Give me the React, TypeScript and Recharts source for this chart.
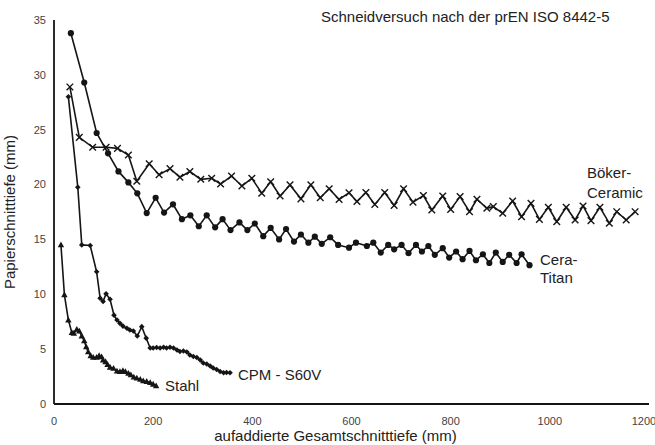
import React from 'react';
import { LineChart, Line, XAxis, YAxis, Customized } from 'recharts';

const xTicks = [0, 200, 400, 600, 800, 1000, 1200];
const yTicks = [0, 5, 10, 15, 20, 25, 30, 35];

const bokerX = [32,51,78,105,128,150,167,192,212,234,254,274,296,318,336,358,379,399,419,437,456,476,498,518,537,555,575,595,611,629,647,667,686,705,724,745,762,784,800,819,838,853,873,886,905,925,943,962,979,997,1014,1033,1051,1067,1083,1101,1120,1135,1154,1172];
const bokerY = [28.9,24.3,23.4,23.4,23.3,22.7,20.3,21.9,20.9,21.45,20.67,21.19,20.48,20.57,20.05,20.78,19.87,20.57,19.21,20.26,18.96,19.97,18.7,19.97,18.8,19.62,18.64,19.25,18.46,19.28,18.19,19.28,18.1,19.62,18.4,19.0,17.68,18.96,17.74,18.9,17.53,18.66,17.84,17.99,17.38,18.5,17.07,18.29,16.83,17.93,16.62,17.93,16.77,18.05,16.71,17.93,16.47,17.53,16.77,17.53];

const ceraX = [34,61,86,109,130,150,168,187,205,222,240,258,275,292,308,325,340,356,374,390,405,422,437,454,468,484,498,513,526,540,557,573,595,609,631,644,659,674,686,701,715,730,742,755,768,784,797,811,824,838,851,865,878,891,905,918,933,943,959];
const ceraY = [33.8,29.3,24.7,22.85,21.2,20.2,19.2,17.4,18.8,17.45,18.2,16.85,17.2,16.2,17.2,16.1,16.85,15.85,16.55,15.85,16.45,15.3,16.05,15.0,15.95,14.8,15.45,14.7,15.25,14.6,15.2,14.5,14.25,14.7,14.4,14.7,13.8,14.5,14.1,14.5,13.75,14.5,13.9,14.4,13.6,14.2,13.35,13.9,13.2,13.95,13.1,13.65,12.85,13.8,12.95,13.6,12.85,13.65,12.65];

const cpmX = [29,48,56,73,86,93,99,105,113,121,127,133,139,147,153,160,168,177,186,194,200,207,214,221,227,234,241,248,254,261,268,274,281,288,295,301,308,315,321,328,335,342,348,355];
const cpmY = [28.0,19.75,14.5,14.45,12.05,9.65,9.35,10.05,9.55,8.1,7.65,7.35,7.1,6.9,6.75,6.65,6.2,7.05,6.0,5.1,5.1,5.15,5.1,5.17,5.1,5.17,5.1,4.92,4.79,4.83,4.74,4.47,4.33,4.24,4.01,3.74,3.65,3.46,3.28,3.14,2.96,2.85,2.87,2.85];

const stahlX = [14,21,29,36,40,46,51,56,61,65,69,74,79,86,91,96,99,104,108,113,120,127,133,139,144,150,155,161,167,174,180,187,194,200,206];
const stahlY = [14.5,9.95,7.65,6.5,6.45,6.8,6.65,6.2,5.75,5.2,4.75,4.4,4.25,4.25,4.4,4.3,4.0,3.85,3.6,3.35,3.25,3.0,2.95,3.05,2.95,2.8,2.65,2.45,2.35,2.25,2.1,2.05,1.95,1.8,1.65];

const toPts = (xs: number[], ys: number[]) => xs.map((x, i) => ({ x, y: ys[i] }));
const bokerData = toPts(bokerX, bokerY);
const ceraData = toPts(ceraX, ceraY);
const cpmData = toPts(cpmX, cpmY);
const stahlData = toPts(stahlX, stahlY);

const INK = '#151515';
const FONT = 'Liberation Sans, Arial, sans-serif';

const CrossDot = (p: any) => {
  const { cx, cy, index } = p;
  if (cx == null || cy == null) return <g key={index} />;
  const s = 3.3;
  return (
    <path key={index} d={`M${cx - s},${cy - s}L${cx + s},${cy + s}M${cx + s},${cy - s}L${cx - s},${cy + s}`} stroke={INK} strokeWidth={1.4} fill="none" />
  );
};
const CircleDot = (p: any) => {
  const { cx, cy, index } = p;
  if (cx == null || cy == null) return <g key={index} />;
  return <circle key={index} cx={cx} cy={cy} r={3.1} fill={INK} stroke="none" />;
};
const DiamondDot = (p: any) => {
  const { cx, cy, index } = p;
  if (cx == null || cy == null) return <g key={index} />;
  const s = 2.8;
  return <path key={index} d={`M${cx},${cy - s}L${cx + s},${cy}L${cx},${cy + s}L${cx - s},${cy}Z`} fill={INK} />;
};
const TriDot = (p: any) => {
  const { cx, cy, index } = p;
  if (cx == null || cy == null) return <g key={index} />;
  return <path key={index} d={`M${cx},${cy - 3.4}L${cx + 3.2},${cy + 2.4}L${cx - 3.2},${cy + 2.4}Z`} fill={INK} />;
};

const Annotations = () => (
  <g fontFamily={FONT} fill="#222" fontSize={15}>
    <text x={321} y={22}>Schneidversuch nach der prEN ISO 8442-5</text>
    <text x={587} y={178}>Böker-</text>
    <text x={587} y={198}>Ceramic</text>
    <text x={540} y={265}>Cera-</text>
    <text x={540} y={283}>Titan</text>
    <text x={238} y={380}>CPM - S60V</text>
    <text x={165} y={391}>Stahl</text>
  </g>
);

export default function App() {
  return (
    <div style={{ position: 'absolute', left: 0, top: 0, width: 655, height: 445, background: '#fff' }}>
      <LineChart width={655} height={445} margin={{ top: 20, right: 6, bottom: 0, left: 0 }}>
        <XAxis
          type="number"
          dataKey="x"
          domain={[0, 1200]}
          ticks={xTicks}
          allowDataOverflow
          tickLine={false}
          axisLine={{ stroke: INK, strokeWidth: 1.8 }}
          tick={{ fill: '#444', fontSize: 11, fontFamily: FONT }}
          tickMargin={7}
          height={41}
          label={{ value: 'aufaddierte Gesamtschnitttiefe (mm)', position: 'insideBottom', offset: 0, fill: '#222', fontSize: 15, fontFamily: FONT, dy: -4, dx: -16 }}
        />
        <YAxis
          type="number"
          dataKey="y"
          domain={[0, 35]}
          ticks={yTicks}
          tickLine={false}
          axisLine={{ stroke: INK, strokeWidth: 1.8 }}
          tick={{ fill: '#444', fontSize: 11, fontFamily: FONT }}
          width={54}
          label={{ value: 'Papierschnitttiefe (mm)', angle: -90, position: 'insideLeft', offset: 10, fill: '#222', fontSize: 15, fontFamily: FONT, style: { textAnchor: 'middle' } }}
        />
        <Line data={bokerData} dataKey="y" stroke={INK} strokeWidth={1.6} dot={CrossDot} isAnimationActive={false} />
        <Line data={ceraData} dataKey="y" stroke={INK} strokeWidth={1.6} dot={CircleDot} isAnimationActive={false} />
        <Line data={cpmData} dataKey="y" stroke={INK} strokeWidth={1.6} dot={DiamondDot} isAnimationActive={false} />
        <Line data={stahlData} dataKey="y" stroke={INK} strokeWidth={1.6} dot={TriDot} isAnimationActive={false} />
        <Customized component={Annotations} />
      </LineChart>
    </div>
  );
}
